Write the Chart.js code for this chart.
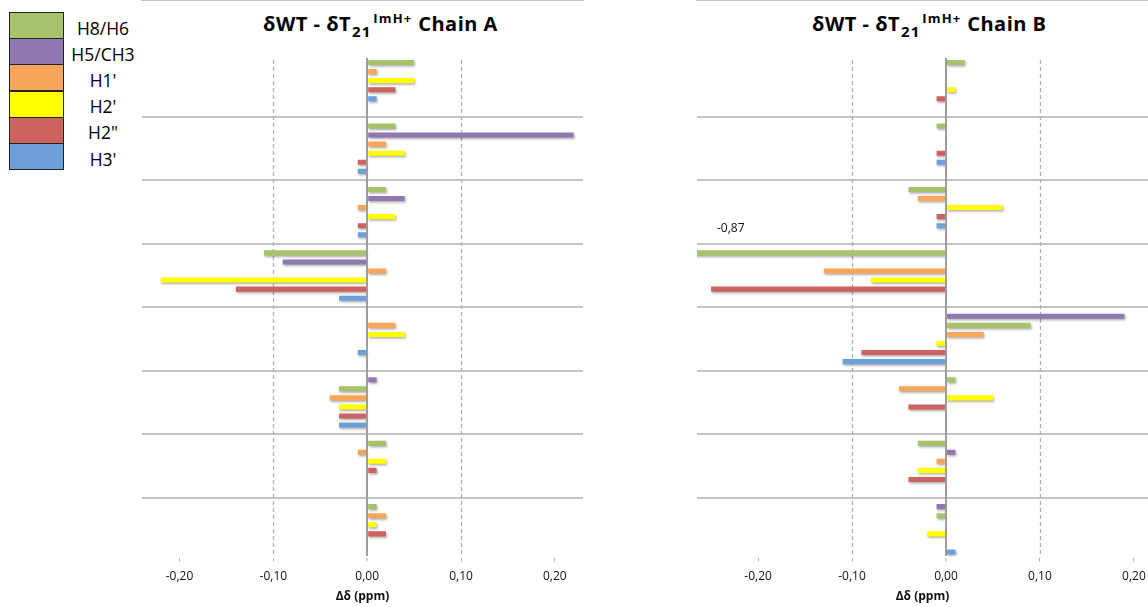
<!DOCTYPE html>
<html lang="fr">
<head>
<meta charset="utf-8">
<title>δWT - δT21 ImH+ Chain A / Chain B</title>
<script src="https://cdn.jsdelivr.net/npm/chart.js@4.4.1/dist/chart.umd.min.js"></script>
<style>
  html, body { margin: 0; padding: 0; background: #fff; }
  body { width: 1148px; height: 607px; overflow: hidden; position: relative; font-family: "Open Sans", sans-serif; color: #000; }
  canvas { position: absolute; top: 0; }
  #chartA { left: 112px; }
  #chartB { left: 667px; }
  .title { position: absolute; top: 11px; font-weight: 700; font-size: 20px; letter-spacing: 0.5px; line-height: 26px; white-space: nowrap; }
  .title .sub { font-size: 15px; position: relative; top: 6px; letter-spacing: 1px; margin-left: 1px; }
  .title .sup { font-size: 13px; position: relative; top: -8px; letter-spacing: 1.2px; margin-left: 2px; }
  #legend { position: absolute; left: 0; top: 0; }
  .lg-swatch { position: absolute; left: 9px; width: 53px; height: 25px; border: 1px solid #222; }
  .lg-label { position: absolute; left: 63px; width: 80px; text-align: center; font-size: 17.5px; line-height: 26px; }
</style>
</head>
<body>
<div class="title" style="left:263px">δWT - δT<span class="sub">21</span><span class="sup">ImH+</span> Chain A</div>
<div class="title" style="left:812px">δWT - δT<span class="sub">21</span><span class="sup">ImH+</span> Chain B</div>
<div id="legend"></div>
<canvas id="chartA" width="500" height="607"></canvas>
<canvas id="chartB" width="511" height="607"></canvas>
<script>
// Proton types (one bar series each) and their colours
const SERIES = ['H8/H6', 'H5/CH3', "H1'", "H2'", 'H2"', "H3'"];
const COLORS = ['#a6c26b', '#9079b1', '#f9a55a', '#ffff00', '#cc635f', '#6d9fdc'];
const H86 = SERIES[0], H5 = SERIES[1], H1 = SERIES[2], H2 = SERIES[3], H2b = SERIES[4], H3 = SERIES[5];

// Each nucleotide block: protons listed top to bottom, one row each
const ROWS_PER_BLOCK = 7;

const chainA_protons = [
  [H86, H1, H2, H2b, H3],
  [H86, H5, H1, H2, H2b, H3],
  [H86, H5, H1, H2, H2b, H3],
  [H86, H5, H1, H2, H2b, H3],
  [H86, H1, H2, H2b, H3],
  [H5, H86, H1, H2, H2b, H3],
  [H86, H1, H2, H2b, H3],
  [H86, H1, H2, H2b, H3]
];
const chainA_shifts = [
  [0.05, 0.01, 0.05, 0.03, 0.01],
  [0.03, 0.22, 0.02, 0.04, -0.01, -0.01],
  [0.02, 0.04, -0.01, 0.03, -0.01, -0.01],
  [-0.11, -0.09, 0.02, -0.22, -0.14, -0.03],
  [0, 0.03, 0.04, 0, -0.01],
  [0.01, -0.03, -0.04, -0.03, -0.03, -0.03],
  [0.02, -0.01, 0.02, 0.01, 0],
  [0.01, 0.02, 0.01, 0.02, 0]
];

const chainB_protons = [
  [H86, H5, H1, H2, H2b, H3],
  [H86, H1, H2, H2b, H3],
  [H86, H1, H2, H2b, H3],
  [H86, H5, H1, H2, H2b, H3],
  [H5, H86, H1, H2, H2b, H3],
  [H86, H1, H2, H2b, H3],
  [H86, H5, H1, H2, H2b, H3],
  [H5, H86, H1, H2, H2b, H3]
];
const chainB_shifts = [
  [0.02, 0, 0, 0.01, -0.01, 0],
  [-0.01, 0, 0, -0.01, -0.01],
  [-0.04, -0.03, 0.06, -0.01, -0.01],
  [-0.87, 0, -0.13, -0.08, -0.25, 0],
  [0.19, 0.09, 0.04, -0.01, -0.09, -0.11],
  [0.01, -0.05, 0.05, -0.04, 0],
  [-0.03, 0.01, -0.01, -0.03, -0.04, 0],
  [-0.01, -0.01, 0, -0.02, 0, 0.01]
];

// Δδ axis ranges and tick positions
const chainA_range = [-0.24, 0.23];
const chainB_range = [-0.265, 0.215];
const X_TICKS = [-0.2, -0.1, 0, 0.1, 0.2];
const DASHED_AT = [-0.1, 0.1];
const AXIS_TITLE = 'Δδ (ppm)';

const fmt = v => (Math.abs(v) < 1e-9 ? 0 : v).toFixed(2).replace('.', ',');

// Legend: stacked colour boxes with their proton names
const legend = document.getElementById('legend');
SERIES.forEach((name, i) => {
  const sw = document.createElement('div');
  sw.className = 'lg-swatch';
  sw.style.top = (12 + i * 26.2) + 'px';
  sw.style.background = COLORS[i];
  legend.appendChild(sw);
  const lb = document.createElement('div');
  lb.className = 'lg-label';
  lb.style.top = (14.5 + i * 26.2) + 'px';
  lb.textContent = name;
  legend.appendChild(lb);
});

// Dashed reference lines, bar shadows and labels for bars beyond the axis
const decorations = {
  id: 'decorations',
  beforeDatasetsDraw(chart) {
    const { ctx, chartArea: a, scales: { x } } = chart;
    ctx.save();
    ctx.strokeStyle = '#b0b0b0';
    ctx.lineWidth = 1.3;
    ctx.setLineDash([4, 3]);
    DASHED_AT.forEach(v => {
      const px = Math.round(x.getPixelForValue(v)) + 0.5;
      ctx.beginPath();
      ctx.moveTo(px, a.top + 2);
      ctx.lineTo(px, a.bottom);
      ctx.stroke();
    });
    ctx.restore();
    ctx.save();
    ctx.shadowColor = 'rgba(0,0,0,0.33)';
    ctx.shadowBlur = 2.5;
    ctx.shadowOffsetX = 1;
    ctx.shadowOffsetY = 1.5;
  },
  afterDatasetsDraw(chart) {
    const { ctx, chartArea: a, scales: { x } } = chart;
    ctx.restore();
    ctx.save();
    ctx.font = '12px "Open Sans"';
    ctx.fillStyle = '#111';
    ctx.textAlign = 'left';
    ctx.textBaseline = 'middle';
    chart.data.datasets.forEach((ds, di) => {
      const meta = chart.getDatasetMeta(di);
      ds.data.forEach((v, j) => {
        if (v !== null && v < x.min) {
          ctx.fillText(fmt(v), a.left + 20, meta.data[j].y - 24);
        }
      });
    });
    ctx.restore();
  }
};

function buildChart(id, protons, shifts, range) {
  const rowSeries = [], rowValue = [];
  protons.forEach((blk, b) => {
    const size = b < protons.length - 1 ? ROWS_PER_BLOCK : ROWS_PER_BLOCK - 1;
    for (let i = 0; i < size; i++) {
      rowSeries.push(i < blk.length ? blk[i] : null);
      rowValue.push(i < blk.length ? shifts[b][i] : null);
    }
  });
  const separators = protons.slice(0, -1).map((_, b) => b * ROWS_PER_BLOCK + ROWS_PER_BLOCK - 1);

  const datasets = SERIES.map((name, si) => ({
    label: name,
    data: rowSeries.map((s, r) => (s === name ? rowValue[r] : null)),
    backgroundColor: COLORS[si],
    borderWidth: 0,
    barPercentage: 0.56,
    categoryPercentage: 1,
    skipNull: true,
    clip: 0
  }));

  return new Chart(document.getElementById(id), {
    type: 'bar',
    data: { labels: rowSeries.map((s, r) => (s || '') + '#' + r), datasets },
    plugins: [decorations],
    options: {
      indexAxis: 'y',
      responsive: false,
      animation: false,
      devicePixelRatio: 1,
      events: [],
      layout: { padding: { top: 58, left: 30, right: id === 'chartA' ? 29 : 30, bottom: 0 } },
      plugins: { legend: { display: false }, tooltip: { enabled: false }, title: { display: false } },
      scales: {
        x: {
          type: 'linear',
          min: range[0],
          max: range[1],
          bounds: 'data',
          afterBuildTicks(scale) { scale.ticks = X_TICKS.map(v => ({ value: v })); },
          afterFit(scale) { scale.height = 50.5; },
          ticks: {
            padding: 8,
            color: '#111',
            font: { family: '"Open Sans"', size: 12 },
            callback: v => fmt(v)
          },
          grid: {
            z: 1,
            color: c => (c.tick && Math.abs(c.tick.value) < 1e-9 ? '#9d9d9d' : 'rgba(0,0,0,0)'),
            lineWidth: c => (c.tick && Math.abs(c.tick.value) < 1e-9 ? 2 : 1),
            tickColor: '#b3b3b3',
            tickLength: 5,
            tickWidth: 1
          },
          border: { display: true, color: '#c3c3c3', width: 2 },
          title: {
            display: true,
            text: AXIS_TITLE,
            color: '#111',
            font: { family: '"Open Sans"', size: 12, weight: 'bold' },
            padding: { top: 0, bottom: 3 }
          }
        },
        y: {
          type: 'category',
          offset: true,
          ticks: { display: false, autoSkip: false },
          grid: {
            offset: false,
            drawTicks: false,
            color: c => (separators.includes(c.index) ? '#c3c3c3' : 'rgba(0,0,0,0)'),
            lineWidth: 2
          },
          border: { display: false }
        }
      }
    }
  });
}

buildChart('chartA', chainA_protons, chainA_shifts, chainA_range);
buildChart('chartB', chainB_protons, chainB_shifts, chainB_range);
</script>
</body>
</html>
